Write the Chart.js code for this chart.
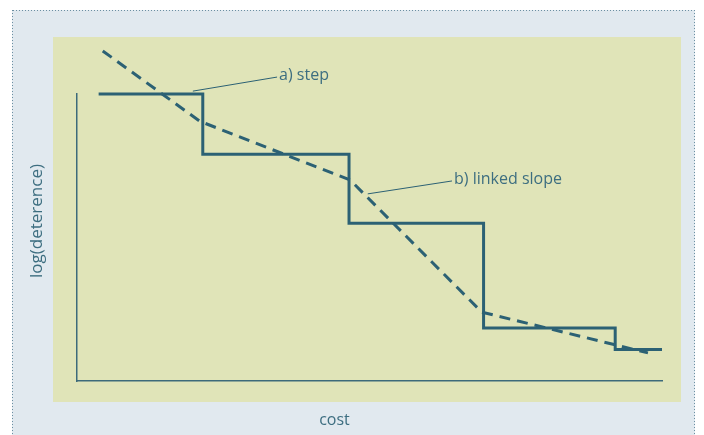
<!DOCTYPE html>
<html>
<head>
<meta charset="utf-8">
<script src="https://cdn.jsdelivr.net/npm/chart.js@4"></script>
<style>
  html, body { margin: 0; padding: 0; background: #fff; }
  canvas { display: block; }
</style>
</head>
<body>
<canvas id="chart" width="704" height="435"></canvas>
<script>
// step model: cost break points and deterrence levels
const stepX = [3.7, 21.5, 46.5, 69.5, 92, 100];
const stepY = [100, 79, 55, 18.5, 11, 11];

// linked slope model
const slopeX = [4.4, 21, 46.7, 69.2, 97.6];
const slopeY = [115, 90.5, 70, 24, 9.8];

// callouts: [from x, from y, to x, to y]
const calloutLabels = ['a) step', 'b) linked slope'];
const calloutLines = [
  [19.8, 101, 34.2, 105.9],
  [49.7, 65.2, 64.1, 69.7],
];

const xTitle = 'cost';
const yTitle = 'log(deterence)';

const lineColor = '#2c6174';
const textColor = '#3d6e80';
const font = '"Open Sans", "Noto Sans", sans-serif';

const toPoints = (xs, ys) => xs.map((x, i) => ({ x: x, y: ys[i] }));

const backdrop = {
  id: 'backdrop',
  beforeDraw(chart) {
    const ctx = chart.ctx;
    ctx.save();
    ctx.fillStyle = '#ffffff';
    ctx.fillRect(0, 0, 704, 435);
    ctx.fillStyle = '#e1e9ef';
    ctx.fillRect(12, 10, 683, 430);
    // dotted frame
    ctx.fillStyle = '#6b8fa2';
    for (let x = 13; x <= 694; x += 3) ctx.fillRect(x, 10, 1, 1);
    for (let y = 10; y <= 435; y += 3) {
      ctx.fillRect(12, y, 1, 1);
      ctx.fillRect(694, y, 1, 1);
    }
    ctx.fillStyle = '#e0e4b8';
    ctx.fillRect(53, 37, 628, 365);
    ctx.restore();
  },
  afterDraw(chart) {
    const ctx = chart.ctx;
    const xs = chart.scales.x;
    const ys = chart.scales.y;
    ctx.save();
    ctx.fillStyle = textColor;
    ctx.font = '16px ' + font;
    ctx.textBaseline = 'middle';
    ctx.textAlign = 'left';
    calloutLines.forEach((c, i) => {
      ctx.fillText(calloutLabels[i], xs.getPixelForValue(c[2]) + 2, ys.getPixelForValue(c[3]) - 2);
    });
    ctx.textAlign = 'center';
    ctx.fillText(xTitle, (xs.left + xs.right) / 2 - 35, 420);
    ctx.font = '17px ' + font;
    ctx.translate(37, 221);
    ctx.rotate(-Math.PI / 2);
    ctx.fillText(yTitle, 0, 0);
    ctx.restore();
  }
};

new Chart(document.getElementById('chart'), {
  type: 'scatter',
  data: {
    datasets: [
      {
        label: 'step',
        data: toPoints(stepX, stepY),
        showLine: true,
        stepped: true,
        borderColor: lineColor,
        borderWidth: 3,
        pointRadius: 0,
        clip: false,
      },
      {
        label: 'linked slope',
        data: toPoints(slopeX, slopeY),
        showLine: true,
        borderColor: lineColor,
        borderWidth: 3,
        borderDash: [11, 7],
        pointRadius: 0,
        clip: false,
      },
      ...calloutLines.map((c, i) => ({
        label: calloutLabels[i] + ' callout',
        data: [{ x: c[0], y: c[1] }, { x: c[2], y: c[3] }],
        showLine: true,
        borderColor: lineColor,
        borderWidth: 1,
        pointRadius: 0,
        clip: false,
      })),
    ],
  },
  options: {
    responsive: false,
    animation: false,
    layout: { padding: { left: 77, right: 42, top: 94, bottom: 54 } },
    plugins: {
      legend: { display: false },
      tooltip: { enabled: false },
    },
    scales: {
      x: {
        type: 'linear',
        min: 0,
        max: 100,
        grid: { display: false, drawTicks: false },
        border: { display: true, color: '#3d6a7a', width: 1.5 },
        ticks: { display: false },
      },
      y: {
        type: 'linear',
        min: 0,
        max: 100,
        grid: { display: false, drawTicks: false },
        border: { display: true, color: '#3d6a7a', width: 1.5 },
        ticks: { display: false },
      },
    },
  },
  plugins: [backdrop],
});
</script>
</body>
</html>
